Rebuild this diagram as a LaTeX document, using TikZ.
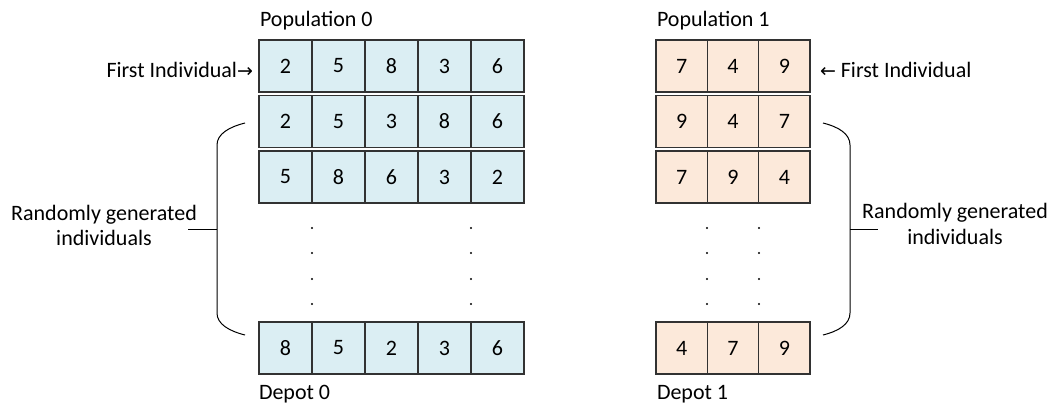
\documentclass[tikz,border=0pt]{standalone}
\usepackage{fontspec}
\setmainfont{Carlito}
\newfontfamily\symfont{DejaVu Sans}
\definecolor{cellblue}{RGB}{219,238,243}
\definecolor{cellpeach}{RGB}{252,233,218}
\definecolor{gridline}{RGB}{50,50,50}
% arrow glyph taken from DejaVu Sans, a little smaller than the text
\newcommand\smallarrow[1]{{\symfont\fontsize{19}{22}\selectfont #1}}
\begin{document}
\begin{tikzpicture}[x=1pt,y=-1pt,
  every node/.style={font=\fontsize{22}{25}\selectfont, inner sep=0pt, outer sep=0pt},
  cell/.style={draw=gridline, line width=1.3pt, minimum height=52pt, anchor=north west},
  bluecell/.style={cell, fill=cellblue, minimum width=53pt},
  peachcell/.style={cell, fill=cellpeach, minimum width=51.33pt},
  txt/.style={anchor=base west},
  ctxt/.style={anchor=base},
  brace/.style={line width=1pt, black},
  dot/.style={black}
]
\useasboundingbox (0,0) rectangle (1053,408);

% Population 0: five genes per individual
\foreach \r/\top/\vals in {0/40/{2,5,8,3,6},1/95.5/{2,5,3,8,6},2/151/{5,8,6,3,2},3/322/{8,5,2,3,6}} {
  \foreach \v [count=\c from 0] in \vals {
    \node[bluecell] (A\r-\c) at (259+53*\c, \top) {\v};
  }
}

% Population 1: three genes per individual
\foreach \r/\top/\vals in {0/40/{7,4,9},1/95.5/{9,4,7},2/151/{7,9,4},3/322/{4,7,9}} {
  \foreach \v [count=\c from 0] in \vals {
    \node[peachcell] (B\r-\c) at (656+51.33*\c, \top) {\v};
  }
}

% vertical ellipsis dots between the listed individuals and the last one
\foreach \y in {228,253,279,304} {
  \fill[dot] (312,\y) circle (1.1pt);
  \fill[dot] (471,\y) circle (1.1pt);
  \fill[dot] (707,\y) circle (1.1pt);
  \fill[dot] (759,\y) circle (1.1pt);
}

% titles and captions
\node[txt] (pop0) at (260,26) {Population 0};
\node[txt] (pop1) at (657,26) {Population 1};
\node[txt] (dep0) at (259,399) {Depot 0};
\node[txt] (dep1) at (657,399) {Depot 1};

\node[anchor=base east] (first0) at (253,77) {First Individual\smallarrow{→}};
\node[txt] (first1) at (820,77) {\smallarrow{←} First Individual};

\node[ctxt] (rand0a) at (104,220) {Randomly generated};
\node[ctxt] (rand0b) at (104,245) {individuals};
\node[ctxt] (rand1a) at (955,218) {Randomly generated};
\node[ctxt] (rand1b) at (955,244) {individuals};

% braces grouping the randomly generated individuals
\draw[brace] (245,123) .. controls (229,127) and (217,134) .. (217,145)
  -- (217,313) .. controls (217,324) and (229,331) .. (245,335);
\draw[brace] (188,229) -- (217,229);
\draw[brace] (823,123) .. controls (839,127) and (850,134) .. (850,145)
  -- (850,313) .. controls (850,324) and (839,331) .. (823,335);
\draw[brace] (850,229) -- (878,229);
\end{tikzpicture}
\end{document}
